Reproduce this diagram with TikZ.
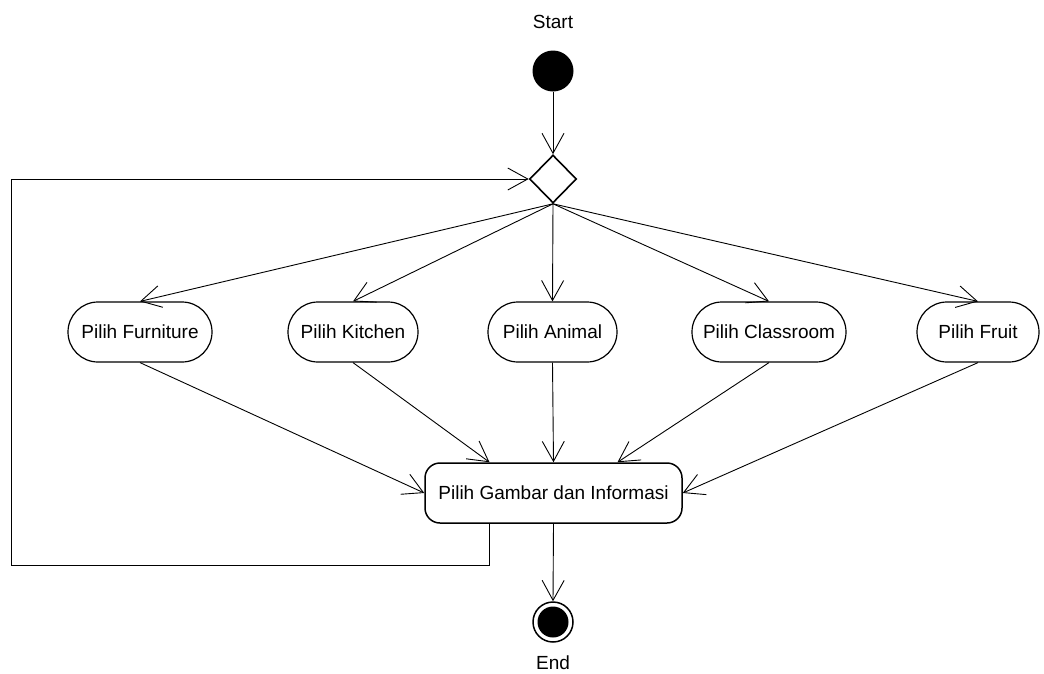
\documentclass[tikz,border=0pt]{standalone}
\usepackage{fontspec}
\setmainfont{Liberation Sans}
\usetikzlibrary{arrows.meta,shapes.geometric}
\begin{document}
\begin{tikzpicture}[x=1pt,y=-1pt,
  font=\fontsize{19}{22}\selectfont,
  flow/.style={-{Straight Barb[length=20pt,width=22pt]},line width=0.9pt},
  act/.style={draw,line width=1.2pt,rounded corners=30pt,minimum height=60pt,inner sep=0pt},
  bigact/.style={draw,line width=1.5pt,rounded corners=15pt,minimum height=60pt,minimum width=257pt,inner sep=0pt},
  lbl/.style={inner sep=0pt}]
\fill[white] (0,0) rectangle (1044,673);
\useasboundingbox (0,0) rectangle (1044,673);

\node[lbl] (startlbl) at (553,22) {Start};
\node[circle,fill=black,minimum size=41pt,inner sep=0pt] (start) at (553,71) {};
\node[diamond,draw,line width=1.6pt,minimum width=47pt,minimum height=48pt,inner sep=0pt] (dia) at (553,179) {};

\node[act,minimum width=144pt] (fur) at (140,332) {Pilih Furniture};
\node[act,minimum width=130pt] (kit) at (353,332) {Pilih Kitchen};
\node[act,minimum width=129pt] (ani) at (552.5,332) {Pilih Animal};
\node[act,minimum width=154pt] (cls) at (769,332) {Pilih Classroom};
\node[act,minimum width=122pt] (fru) at (978,332) {Pilih Fruit};

\node[bigact] (gam) at (553.5,493) {Pilih Gambar dan Informasi};

\node[circle,draw,line width=1.5pt,minimum size=40pt,inner sep=0pt] (end) at (553,622) {};
\node[circle,fill=black,minimum size=31pt,inner sep=0pt] (endin) at (end.center) {};
\node[lbl] (endlbl) at (553,663) {End};

\coordinate (loopbl) at (11,565);

\draw[flow] (start) -- (dia.north);
\draw[flow] (dia.south) -- (fur.north);
\draw[flow] (dia.south) -- (kit.north);
\draw[flow] (dia.south) -- (ani.north);
\draw[flow] (dia.south) -- (cls.north);
\draw[flow] (dia.south) -- (fru.north);

\draw[flow] (fur.south) -- (gam.west);
\draw[flow] (kit.south) -- ([xshift=-64pt]gam.north);
\draw[flow] (ani.south) -- (gam.north);
\draw[flow] (cls.south) -- ([xshift=64pt]gam.north);
\draw[flow] (fru.south) -- (gam.east);

\draw[flow] (gam.south) -- (end.north);
\draw[flow] ([xshift=-64pt]gam.south) |- (loopbl) |- (dia.west);
\end{tikzpicture}
\end{document}
